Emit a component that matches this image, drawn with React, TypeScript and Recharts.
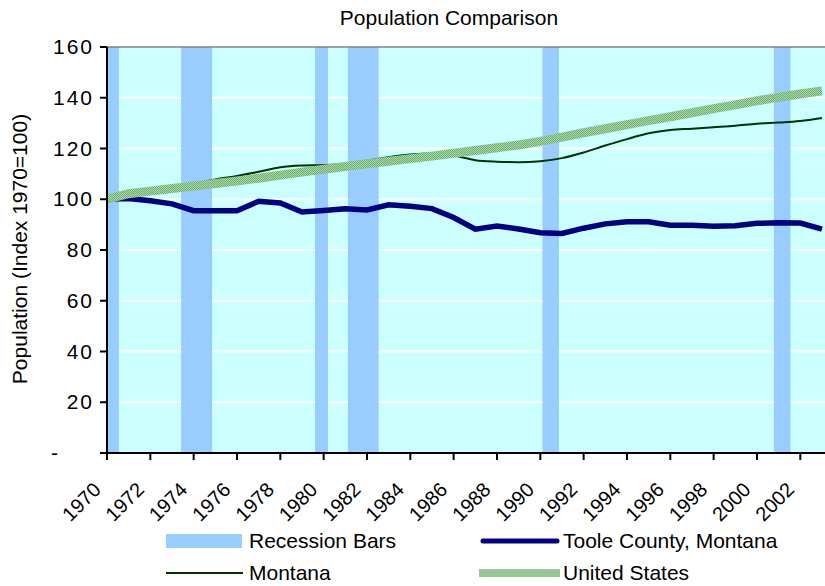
import {
  CartesianGrid,
  ComposedChart,
  Line,
  ReferenceArea,
  ReferenceLine,
  XAxis,
  YAxis,
} from "recharts";

const years = [
  1970, 1971, 1972, 1973, 1974, 1975, 1976, 1977, 1978, 1979, 1980, 1981,
  1982, 1983, 1984, 1985, 1986, 1987, 1988, 1989, 1990, 1991, 1992, 1993,
  1994, 1995, 1996, 1997, 1998, 1999, 2000, 2001, 2002, 2003,
];
const toole = [
  100, 100.3, 99.4, 98.2, 95.5, 95.5, 95.5, 99.2, 98.5, 95.0, 95.6, 96.3,
  95.8, 97.8, 97.2, 96.3, 92.8, 88.2, 89.4, 88.3, 86.8, 86.5, 88.6, 90.3,
  91.1, 91.1, 89.8, 89.8, 89.4, 89.6, 90.5, 90.7, 90.6, 88.2,
];
const montana = [
  100, 101.5, 103, 104.3, 106, 107.8, 109.2, 110.8, 112.6, 113.3, 113.5, 114,
  115.2, 116.6, 117.6, 118, 117.2, 115.4, 114.8, 114.6, 115, 116.2, 118.4,
  121.2, 123.7, 126, 127.3, 127.8, 128.4, 129, 129.8, 130.2, 130.8, 132,
];
const unitedStates = [
  100, 102.2, 103.2, 104.2, 105.2, 106.2, 107.2, 108.3, 109.5, 110.7, 111.8,
  112.9, 114.0, 115.0, 116.0, 117.0, 118.1, 119.2, 120.3, 121.4, 122.8, 124.5,
  126.2, 127.8, 129.4, 131.0, 132.5, 134.1, 135.7, 137.2, 138.8, 140.2, 141.5,
  142.7,
];
const recessionStarts = [1970.0, 1973.42, 1979.6, 1981.12, 1990.1, 2000.78];
const recessionEnds = [1970.55, 1974.85, 1980.2, 1982.54, 1990.86, 2001.55];
const yearTicks = [
  1970, 1972, 1974, 1976, 1978, 1980, 1982, 1984, 1986, 1988, 1990, 1992,
  1994, 1996, 1998, 2000, 2002,
];
const indexTicks = [0, 20, 40, 60, 80, 100, 120, 140, 160];

const data = years.map((year, i) => ({
  year,
  toole: toole[i],
  montana: montana[i],
  us: unitedStates[i],
}));

const FONT = "'Liberation Sans', Arial, sans-serif";

function YearTick(props: { x?: number; y?: number; payload?: { value: number } }) {
  const { x = 0, y = 0, payload } = props;
  return (
    <g transform={`translate(${x - 5},${y + 31})`}>
      <text
        x={0}
        y={0}
        transform="rotate(-45)"
        textAnchor="end"
        fontSize={20}
        fontFamily={FONT}
        fill="#000"
      >
        {payload?.value}
      </text>
    </g>
  );
}

function IndexTick(props: { x?: number; y?: number; payload?: { value: number } }) {
  const { x = 0, y = 0, payload } = props;
  const v = payload?.value ?? 0;
  return (
    <text
      x={v === 0 ? x - 32 : x + 2}
      y={y}
      dy={7}
      textAnchor="end"
      fontSize={21}
      letterSpacing={2}
      fontFamily={FONT}
      fill="#000"
    >
      {v === 0 ? "-" : v}
    </text>
  );
}

function LegendItem({ swatch, label }: { swatch: React.ReactNode; label: string }) {
  return (
    <div style={{ display: "flex", alignItems: "center", height: 24 }}>
      <svg width={84} height={16} style={{ marginRight: 3 }}>
        {swatch}
      </svg>
      <span>{label}</span>
    </div>
  );
}

export default function App() {
  return (
    <div
      style={{
        position: "absolute",
        left: 0,
        top: 0,
        width: 825,
        height: 586,
        background: "#fff",
        fontFamily: FONT,
        overflow: "hidden",
      }}
    >
      <div
        style={{
          position: "absolute",
          top: 6,
          left: 0,
          width: 898,
          textAlign: "center",
          fontSize: 21,
        }}
      >
        Population Comparison
      </div>
      <ComposedChart
        width={825}
        height={586}
        data={data}
        margin={{ top: 47, right: 0, bottom: 0, left: 0 }}
      >
        <defs>
          <pattern id="usPattern" width={2} height={2} patternUnits="userSpaceOnUse">
            <rect width={2} height={2} fill="#a9d9a9" />
            <rect width={1} height={1} fill="#6fae6f" />
            <rect x={1} y={1} width={1} height={1} fill="#6fae6f" />
          </pattern>
        </defs>
        <CartesianGrid
          vertical={false}
          stroke="#ffffff"
          strokeWidth={2}
          fill="#ccffff"
          fillOpacity={1}
        />
        {recessionStarts.map((start, i) => (
          <ReferenceArea
            key={start}
            x1={start}
            x2={recessionEnds[i]}
            y1={0}
            y2={160}
            fill="#99ccff"
            fillOpacity={1}
            stroke="none"
          />
        ))}
        <ReferenceLine y={160} stroke="#808080" strokeWidth={1.5} />
        <XAxis
          dataKey="year"
          type="number"
          domain={[1970, 2003.14]}
          allowDataOverflow
          ticks={yearTicks}
          interval={0}
          height={133}
          tickSize={7}
          tickMargin={0}
          stroke="#000"
          strokeWidth={2}
          tick={<YearTick />}
        />
        <YAxis
          domain={[0, 160]}
          ticks={indexTicks}
          interval={0}
          width={107}
          tickSize={7}
          tickMargin={8}
          stroke="#000"
          strokeWidth={2}
          tick={<IndexTick />}
          label={{
            content: () => (
              <text
                x={27}
                y={249}
                transform="rotate(-90 27 249)"
                textAnchor="middle"
                fontSize={21}
                fontFamily={FONT}
                fill="#000"
              >
                Population (Index 1970=100)
              </text>
            ),
          }}
        />
        <Line
          dataKey="toole"
          type="linear"
          stroke="#000080"
          strokeWidth={5.5}
          dot={false}
          isAnimationActive={false}
        />
        <Line
          dataKey="montana"
          type="monotone"
          stroke="#003300"
          strokeWidth={2}
          dot={false}
          isAnimationActive={false}
        />
        <Line
          dataKey="us"
          type="linear"
          stroke="url(#usPattern)"
          strokeWidth={9}
          dot={false}
          isAnimationActive={false}
        />
      </ComposedChart>
      <div style={{ position: "absolute", left: 162, top: 529, fontSize: 21 }}>
        <LegendItem
          label="Recession Bars"
          swatch={<rect x={4} y={1} width={76} height={14} fill="#99ccff" />}
        />
      </div>
      <div style={{ position: "absolute", left: 476, top: 529, fontSize: 21 }}>
        <LegendItem
          label="Toole County, Montana"
          swatch={
            <line x1={7} y1={8} x2={81} y2={8} stroke="#000080" strokeWidth={5} strokeLinecap="round" />
          }
        />
      </div>
      <div style={{ position: "absolute", left: 162, top: 561, fontSize: 21 }}>
        <LegendItem
          label="Montana"
          swatch={<line x1={4} y1={8} x2={81} y2={8} stroke="#003300" strokeWidth={2} />}
        />
      </div>
      <div style={{ position: "absolute", left: 476, top: 561, fontSize: 21 }}>
        <LegendItem
          label="United States"
          swatch={<rect x={3} y={4} width={81} height={8} fill="#96c896" />}
        />
      </div>
    </div>
  );
}
